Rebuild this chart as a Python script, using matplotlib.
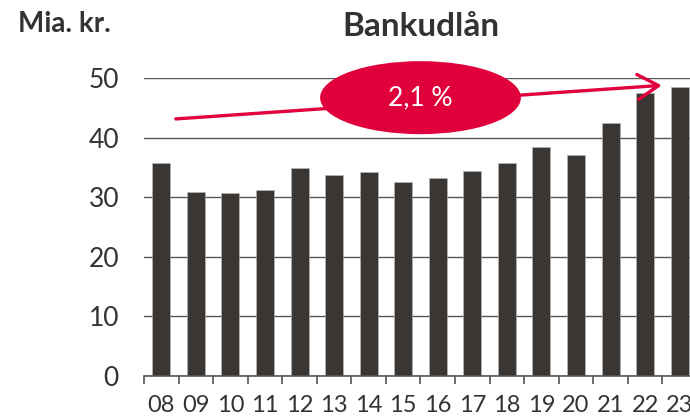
import matplotlib
matplotlib.use("Agg")
import matplotlib.pyplot as plt
from matplotlib.patches import Ellipse, FancyArrowPatch

years = ["08", "09", "10", "11", "12", "13", "14", "15", "16", "17", "18", "19", "20", "21", "22", "23"]
values = [35.8, 30.8, 30.7, 31.2, 34.9, 33.7, 34.3, 32.6, 33.2, 34.4, 35.7, 38.4, 37.0, 42.5, 47.4, 48.5]
yticks = [0, 10, 20, 30, 40, 50]
growth_label = "2,1 %"
title = "Bankudlån"
unit_label = "Mia. kr."

BAR = "#3a3633"
RED = "#e0003c"
TXT = "#333333"

plt.rcParams['font.family'] = ['Lato', 'DejaVu Sans']

fig = plt.figure(figsize=(6.9, 4.2), dpi=100)
ax = fig.add_axes([144/690, 1-376/420, (697-144)/690, (376-78)/420])

x = list(range(len(years)))
ax.bar(x, values, width=0.52, color=BAR, edgecolor="#bbbbbb", linewidth=0.4, zorder=2)

ax.set_xlim(-0.5, len(years) - 0.5)
ax.set_ylim(0, 50)
ax.set_yticks(yticks)
ax.set_yticklabels([str(v) for v in yticks])
ax.set_xticks(x)
ax.set_xticklabels(years)
ax.set_xticks([i - 0.5 for i in range(len(years) + 1)], minor=True)

ax.yaxis.grid(True, color="#555555", linewidth=1.0, zorder=0)
ax.set_axisbelow(True)
for s in ["left", "right", "top"]:
    ax.spines[s].set_visible(False)
ax.spines["bottom"].set_color("#555555")
ax.spines["bottom"].set_linewidth(1.2)

ax.tick_params(axis="y", length=0, pad=18, labelsize=19, labelcolor=TXT)
ax.tick_params(axis="x", which="major", length=0, pad=14, labelsize=17, labelcolor=TXT)
ax.tick_params(axis="x", which="minor", length=6, width=1.2, color="#555555", direction="out")

# trend arrow
arrow = FancyArrowPatch((0.34, 43.1), (14.56, 48.8), arrowstyle="->,head_length=0.75,head_width=0.45",
                        mutation_scale=20, color=RED, linewidth=2.4, zorder=4, clip_on=False)
ax.add_patch(arrow)

ell = Ellipse((7.5, 46.7), width=5.81, height=12.25, facecolor=RED, edgecolor="none",
              zorder=5, clip_on=False)
ax.add_patch(ell)
ax.text(7.5, 46.7, growth_label, color="white", fontsize=19, ha="center", va="center", zorder=6)

ax.set_title(title, fontsize=24, fontweight="bold", color=TXT, pad=30)
fig.text(18/690, 1-32/420, unit_label, fontsize=20, fontweight="bold", color=TXT, ha="left", va="baseline")

fig.savefig("out.png", dpi=100)
